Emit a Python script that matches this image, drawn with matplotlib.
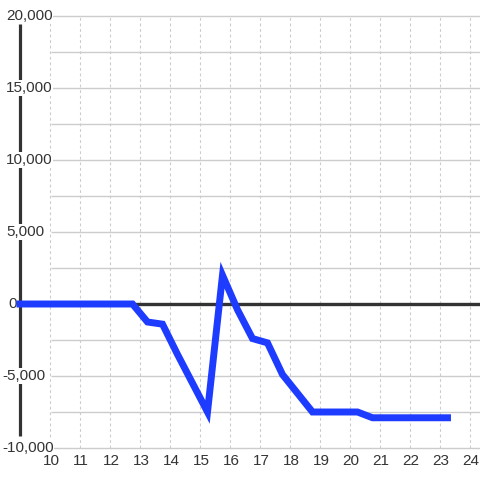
import matplotlib
matplotlib.use("Agg")
import matplotlib.pyplot as plt

# hour of day vs. balance
hours = [9.0, 12.75, 13.25, 13.75, 14.25, 14.75, 15.25, 15.75, 16.25, 16.75,
         17.25, 17.75, 18.25, 18.75, 19.25, 19.75, 20.25, 20.75, 21.25, 21.75,
         22.25, 22.75, 23.25]
values = [0, 0, -1250, -1400, -3500, -5500, -7500, 2000, -400, -2400,
          -2700, -4900, -6200, -7500, -7500, -7500, -7500, -7900, -7900, -7900,
          -7900, -7900, -7900]

x_ticks = list(range(10, 25))
y_ticks = [-10000, -5000, 0, 5000, 10000, 15000, 20000]
y_grid = list(range(-10000, 20001, 2500))

TEXT = "#333333"
GRID = "#cccccc"
BLUE = "#1e3cff"

plt.rcParams['font.family'] = ['Liberation Sans', 'DejaVu Sans']

fig = plt.figure(figsize=(4.8, 4.8), dpi=100)
ax = fig.add_axes([0, 0, 1, 1])
ax.set_xlim(10 - 50 / 30, 10 + 430 / 30)
ax.set_ylim(-12222.2, 21111.1)
ax.axis("off")

# grid
ax.hlines([v for v in y_grid if v != 0], 10.05, 24.4, color=GRID, lw=1, zorder=1)
ax.vlines(x_ticks, -10000, 20000, color=GRID, lw=0.8, linestyles=(0, (2.5, 2.5)), zorder=1)

# axis lines
ax.axhline(0, xmin=20 / 480, color=TEXT, lw=2.4, zorder=2)
ax.vlines(9.0, -9200, 19450, color=TEXT, lw=2.3, zorder=2)

# tick labels (left edge in px: negatives 2, zero 8, positives 6)
for v in y_ticks:
    left_px = 2 if v < 0 else (8 if v == 0 else 6)
    ax.text(10 + (left_px - 50) / 30, v, f"{v:,}", ha="left", va="center",
            fontsize=11, color=TEXT, zorder=3,
            bbox=dict(boxstyle="square,pad=0.05", fc="white", ec="none"))
for h in x_ticks:
    ax.text(h + 0.04, -10880, str(h), ha="center", va="center", fontsize=11,
            color=TEXT, zorder=3)

ax.plot(hours, values, color=BLUE, lw=5.0, solid_capstyle="projecting",
        solid_joinstyle="miter", zorder=4)

fig.savefig("out.png", dpi=100, facecolor="white")
